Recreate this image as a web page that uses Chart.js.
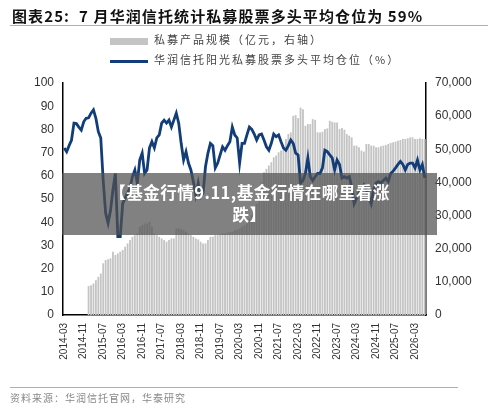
<!DOCTYPE html>
<html><head><meta charset="utf-8">
<script src="https://cdn.jsdelivr.net/npm/chart.js@4"></script>
<style>
body{margin:0;width:500px;height:410px;background:#fff;font-family:"Liberation Sans","Noto Sans CJK SC",sans-serif;position:relative;overflow:hidden}
#t{position:absolute;left:12px;top:5px;font-size:15px;font-weight:bold;color:#111;font-family:"Noto Sans CJK SC",sans-serif;letter-spacing:1.1px}
#tl{position:absolute;left:10px;right:12px;top:25px;border-top:1px solid #9fb4cc}
.lg{position:absolute;left:110px;font-size:11px;color:#444;font-family:"Noto Sans CJK SC",sans-serif;letter-spacing:2px}
.lg i{display:inline-block;width:38px;vertical-align:middle;margin-right:6px}
#bl{position:absolute;left:10px;right:42px;top:387px;border-top:1px solid #9fb4cc}
#src{position:absolute;left:10px;top:390px;font-size:10px;color:#888;font-family:"Noto Sans CJK SC",sans-serif;letter-spacing:1px}
#wm{position:absolute;left:62px;width:375px;top:173px;height:62px;background:rgba(80,80,80,0.72);color:#fff;font-weight:bold;font-size:16.5px;text-align:center;line-height:22px;padding-top:8px;box-sizing:border-box;font-family:"Noto Sans CJK SC",sans-serif;letter-spacing:0.5px}
#c{position:absolute;left:0;top:0}
</style></head><body>
<div id="c"><canvas id="cv" width="500" height="410"></canvas></div>
<div id="t">图表25:&nbsp; 7 月华润信托统计私募股票多头平均仓位为 59%</div>
<div id="tl"></div>
<div class="lg" style="top:31px"><i style="height:7px;background:#c4c4c4"></i>私募产品规模（亿元，右轴）</div>
<div class="lg" style="top:51px"><i style="height:3px;background:#123d78"></i>华润信托阳光私募股票多头平均仓位（%）</div>
<div id="wm">【基金行情9.11,基金行情在哪里看涨<br>跌】</div>
<div id="bl"></div>
<div id="src">资料来源：华润信托官网，华泰研究</div>
<script>
const startYear=2014,startMonth=3,nMonths=149;
const months=[];
for(let k=0;k<nMonths;k++){const m=startMonth-1+k;months.push((startYear+Math.floor(m/12))+'-'+String(m%12+1).padStart(2,'0'));}
const position=[72,70.4,73,75.4,82.7,82.5,81,79.7,83.3,84.8,85,87,88.4,84.8,79,76.3,58,44,39.6,45,54,61,33.8,33.8,48,50.4,52.6,54.7,59.6,62.5,56.9,66.8,69.8,61,62.5,72,74.7,72,76.3,77.6,82.7,84,82.7,84,81,84,87,82.7,74,66.8,70.4,65.5,62.5,57.5,51.7,56.9,51,52.6,64,69.8,74,73,63.4,65.5,69,72.5,71,73,74.7,81,77.6,76.3,65.5,74,74,77.6,81,80,78,75.4,77.6,78,75.4,72.5,71,74,78,76.9,77.6,74.7,72,71,73,75.4,74,69.8,69,56.9,58,61,67.7,59.6,58,59.6,61,61,63.4,71,70.4,69,67.7,62.5,66.8,64.9,59,59.6,59,59.6,55.3,48,50.4,52.6,54,56,54,51,48,54,56.9,57.5,56.9,58,59,57.5,61,62,63.4,64.9,66.2,64.9,62.5,64.9,65.5,65.5,63.4,66.8,62.5,64.9,59];
const scale=[null,null,null,null,null,null,null,null,null,null,8750,9000,9500,10500,11500,12500,15600,16600,16800,17100,19100,18100,18600,19100,19600,20600,21600,22600,23600,24100,24600,26600,27100,27600,27600,28100,26600,24600,24100,23600,23100,22600,22100,22600,23100,23100,26100,26100,25900,25600,25100,24600,24100,23600,23100,22800,22100,21600,21600,22600,23600,23600,24100,24100,24300,24600,24600,24800,25100,25100,25600,25800,26100,26600,27100,27600,29100,30100,32100,33600,35100,40100,43100,44100,45100,46100,47600,48100,49100,49600,50600,53100,54600,55100,60100,60300,59400,62600,62100,57100,57600,57600,59100,58900,55100,55100,55300,56100,56300,58600,58300,58100,58100,56100,56400,55900,54600,54100,53600,51100,51100,50600,49600,49300,51600,51600,51100,51100,50600,50600,50900,51100,51300,51600,51900,52100,52300,52600,52800,53100,53100,53300,53600,53600,53100,53100,53300,53100,53100];
const leftTicks=[0,10,20,30,40,50,60,70,80,90,100];
const rightTicks=[0,10000,20000,30000,40000,50000,60000,70000];
new Chart(document.getElementById('cv'),{
 data:{labels:months,datasets:[
  {type:'line',data:position,yAxisID:'y',borderColor:'#123d78',borderWidth:2.8,pointRadius:0,tension:0,order:0},
  {type:'bar',data:scale,yAxisID:'y2',backgroundColor:'#c4c4c4',barPercentage:0.75,categoryPercentage:1,order:1}
 ]},
 options:{responsive:false,animation:false,
  layout:{padding:{top:83,bottom:35,left:0,right:0}},
  plugins:{legend:{display:false},tooltip:{enabled:false}},
  scales:{
   x:{grid:{display:false,drawTicks:true,tickLength:5,color:'#000'},border:{color:'#000',width:1.5},
      ticks:{autoSkip:false,maxRotation:90,minRotation:90,color:'#333',font:{size:10,family:'Liberation Sans'},
        callback:function(v,i){return i%8===0?months[i]:null;}},
      afterFit:a=>{a.height=60;}},
   y:{position:'left',min:0,max:100,grid:{display:false,tickLength:5},border:{color:'#000',width:1.5},
      afterBuildTicks:a=>{a.ticks=leftTicks.map(v=>({value:v}));},
      ticks:{color:'#333',font:{size:12,family:'Liberation Sans'},padding:4},afterFit:a=>{a.width=63;}},
   y2:{position:'right',min:0,max:70000,grid:{display:false,tickLength:5},border:{color:'#000',width:1.5},
      afterBuildTicks:a=>{a.ticks=rightTicks.map(v=>({value:v}));},
      ticks:{color:'#333',font:{size:12,family:'Liberation Sans'},padding:4,callback:v=>v.toLocaleString('en-US')},
      afterFit:a=>{a.width=74;}}
  }}
});
</script></body></html>
